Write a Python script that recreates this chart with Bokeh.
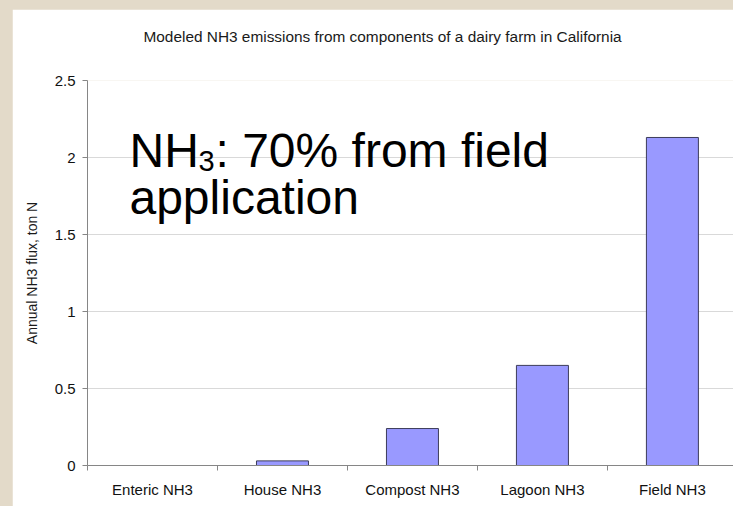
from bokeh.plotting import figure
from bokeh.models import Range1d, FixedTicker, Label, LinearAxis
from bokeh.embed import file_html
from bokeh.resources import INLINE

# ---- data ----
categories = ["Enteric NH3", "House NH3", "Compost NH3", "Lagoon NH3", "Field NH3"]
emissions = [0.0, 0.03, 0.24, 0.65, 2.13]
y_ticks = [0, 0.5, 1, 1.5, 2, 2.5]
y_tick_labels = ["0", "0.5", "1", "1.5", "2", "2.5"]
title_text = "Modeled NH3 emissions from components of a dairy farm in California"
y_label = "Annual NH3 flux, ton N"

FONT = "Liberation Sans"
AXIS_COLOR = "#868686"

xs = [i + 0.5 for i in range(len(categories))]
boundaries = list(range(len(categories) + 1))

p = figure(width=721, height=497,
           x_range=Range1d(0, 4.97), y_range=Range1d(0, 2.5),
           output_backend="svg", toolbar_location=None,
           min_border_left=75, min_border_right=0,
           min_border_top=71, min_border_bottom=41)
p.margin = (9, 0, 0, 12)
p.background_fill_color = "white"
p.border_fill_color = "white"
p.outline_line_color = None

# title, drawn as the single label of an otherwise invisible top axis
title_pos = 2.27
title_axis = LinearAxis(ticker=FixedTicker(ticks=[title_pos]),
                        major_label_overrides={title_pos: title_text},
                        axis_line_color=None, major_tick_line_color=None,
                        minor_tick_line_color=None, major_tick_in=0, major_tick_out=0,
                        major_label_standoff=36,
                        major_label_text_font=FONT, major_label_text_font_size="15.4px",
                        major_label_text_color="#1a1a1a")
p.add_layout(title_axis, "above")

# bars
p.vbar(x=xs, top=emissions, width=0.4, bottom=0,
       fill_color="#9999ff", line_color="#3c3c5a", line_width=1)

# y axis
yt = FixedTicker(ticks=y_ticks)
p.yaxis.ticker = yt
p.yaxis.major_label_overrides = dict(zip(y_ticks, y_tick_labels))
p.yaxis.axis_line_color = AXIS_COLOR
p.yaxis.major_tick_line_color = AXIS_COLOR
p.yaxis.major_tick_out = 5
p.yaxis.major_tick_in = 0
p.yaxis.minor_tick_line_color = None
p.yaxis.major_label_text_font = FONT
p.yaxis.major_label_text_font_size = "15px"
p.yaxis.major_label_text_color = "#111111"
p.yaxis.major_label_standoff = 7
p.yaxis.axis_label = y_label
p.yaxis.axis_label_text_font = FONT
p.yaxis.axis_label_text_font_size = "14px"
p.yaxis.axis_label_text_font_style = "normal"
p.yaxis.axis_label_text_color = "#1a1a1a"
p.yaxis.axis_label_standoff = 12

# x axis (bottom): labels at category centres, tick marks at category boundaries
xaxis = p.below[0]
xaxis.ticker = FixedTicker(ticks=xs, minor_ticks=boundaries)
xaxis.major_label_overrides = dict(zip(xs, categories))
xaxis.axis_line_color = AXIS_COLOR
xaxis.major_tick_line_color = None
xaxis.major_tick_out = 5
xaxis.major_tick_in = 0
xaxis.minor_tick_line_color = AXIS_COLOR
xaxis.minor_tick_out = 5
xaxis.minor_tick_in = 0
xaxis.major_label_text_font = FONT
xaxis.major_label_text_font_size = "15px"
xaxis.major_label_text_color = "#111111"
xaxis.major_label_standoff = 10

# grid
p.xgrid.visible = False
p.ygrid.ticker = yt
p.ygrid.grid_line_color = "#d9d9d9"
p.ygrid.grid_line_width = 1

# big annotation text
ax, ay1, ay2 = 0.323, 2.045, 1.739
big = "48px"
p.add_layout(Label(x=ax, y=ay1, text="NH", text_font=FONT, text_font_size=big,
                   text_baseline="alphabetic", text_color="black"))
p.add_layout(Label(x=ax, y=ay1, x_offset=69, y_offset=-10, text="3", text_font=FONT,
                   text_font_size="29px", text_baseline="alphabetic", text_color="black"))
p.add_layout(Label(x=ax, y=ay1, x_offset=86, text=": 70% from field", text_font=FONT,
                   text_font_size=big, text_baseline="alphabetic", text_color="black"))
p.add_layout(Label(x=ax, y=ay2, text="application", text_font=FONT, text_font_size=big,
                   text_baseline="alphabetic", text_color="black"))

html = file_html(p, INLINE)
html = html.replace("<head>", "<head><style>html,body{background:#e3dac9;overflow:hidden;}</style>", 1)
open("out.html", "w").write(html)
